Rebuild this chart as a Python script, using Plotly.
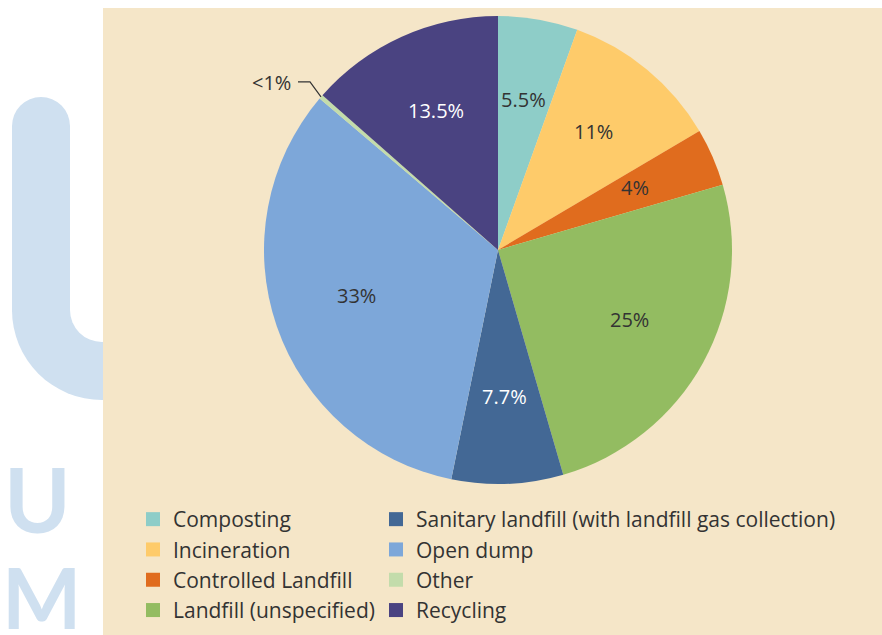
import math
import plotly.graph_objects as go

# ---------------- data ----------------
categories = ["Composting", "Incineration", "Controlled Landfill", "Landfill (unspecified)",
              "Sanitary landfill (with landfill gas collection)", "Open dump", "Other", "Recycling"]
values = [5.5, 11, 4, 25, 7.7, 33, 0.3, 13.5]
slice_labels = ["5.5%", "11%", "4%", "25%", "7.7%", "33%", "<1%", "13.5%"]
colors = ["#8ecdc8", "#fecb6a", "#e06c1e", "#93bc61", "#436895", "#7da7d9", "#c3dcab", "#4a4381"]
text_colors = ["#333333", "#333333", "#333333", "#333333", "#ffffff", "#333333", "#333333", "#ffffff"]
legend_col1 = categories[:4]
legend_col2 = categories[4:]

# ---------------- layout constants ----------------
W, H = 882, 635
cx, cy, r = 498, 250, 234
LABEL_R = 0.64
FONT = "Open Sans, Liberation Sans, Arial, sans-serif"
WM = "#cfe0f0"
DARK = "#333333"

fig = go.Figure()

fig.add_trace(go.Pie(
    labels=categories, values=values, textinfo="none",
    marker=dict(colors=colors, line=dict(width=0)),
    sort=False, direction="clockwise", rotation=0, showlegend=False,
    hoverinfo="label+percent",
    domain=dict(x=[(cx - r) / W, (cx + r) / W], y=[(H - cy - r) / H, (H - cy + r) / H]),
))

# legend entries (two columns)
for i, name in enumerate(categories):
    fig.add_trace(go.Scatter(
        x=[None], y=[None], mode="markers", name=name,
        marker=dict(symbol="square", size=14, color=colors[i], line=dict(width=0)),
        legend="legend" if name in legend_col1 else "legend2",
        legendgroup=name, hoverinfo="skip",
    ))

total = sum(values)
annotations = []
i_other = categories.index("Other")
cum = 0.0
for i, v in enumerate(values):
    mid = 2 * math.pi * (cum + v / 2) / total
    cum += v
    if i == i_other:
        continue
    annotations.append(dict(
        x=cx + LABEL_R * r * math.sin(mid), y=cy - LABEL_R * r * math.cos(mid) - 3,
        xref="x", yref="y", text=slice_labels[i], showarrow=False,
        xanchor="center", yanchor="middle",
        font=dict(family=FONT, size=20, color=text_colors[i]),
    ))

# "<1%" leader line computed from the data
theta = 2 * math.pi * (sum(values[:i_other]) + values[i_other] / 2) / total
px = cx + r * math.sin(theta)
py = cy - r * math.cos(theta)
ex, ey = px - 11, py - 15
hx = ex - 12

annotations += [
    dict(x=hx - 5, y=ey + 1, xref="x", yref="y", text=slice_labels[i_other], showarrow=False,
         xanchor="right", yanchor="middle", font=dict(family=FONT, size=20, color=DARK)),
    dict(x=37, y=498, xref="x", yref="y", text="<b>U</b>", showarrow=False, xanchor="center",
         yanchor="middle", font=dict(family="Lato, sans-serif", size=90, color=WM)),
    dict(x=41, y=596, xref="x", yref="y", text="<b>M</b>", showarrow=False, xanchor="center",
         yanchor="middle", font=dict(family="Lato, sans-serif", size=84, color=WM)),
]

shapes = [
    # watermark U shape
    dict(type="circle", x0=12, x1=192, y0=220, y1=400, fillcolor=WM, line_width=0, layer="below"),
    dict(type="rect", x0=70, x1=200, y0=210, y1=310, fillcolor="white", line_width=0, layer="below"),
    dict(type="circle", x0=70, x1=134, y0=278, y1=342, fillcolor="white", line_width=0, layer="below"),
    dict(type="rect", x0=12, x1=70, y0=126, y1=312, fillcolor=WM, line_width=0, layer="below"),
    dict(type="circle", x0=12, x1=70, y0=97, y1=155, fillcolor=WM, line_width=0, layer="below"),
    # beige panel
    dict(type="rect", x0=103, x1=W, y0=8, y1=H, fillcolor="#f5e6c8", line_width=0, layer="below"),
    # leader line
    dict(type="path", path=f"M {px:.1f},{py:.1f} L {ex:.1f},{ey:.1f} L {hx:.1f},{ey:.1f}",
         line=dict(color=DARK, width=1.2), layer="above"),
]

legend_common = dict(
    xref="paper", yref="paper", xanchor="left", yanchor="top", orientation="v",
    bgcolor="rgba(0,0,0,0)", borderwidth=0, traceorder="grouped", tracegroupgap=0,
    font=dict(family=FONT, size=21, color=DARK), itemclick=False, itemdoubleclick=False,
)

fig.update_layout(
    width=W, height=H, margin=dict(l=0, r=0, t=0, b=0),
    paper_bgcolor="white", plot_bgcolor="rgba(0,0,0,0)",
    xaxis=dict(range=[0, W], visible=False, fixedrange=True, domain=[0, 1]),
    yaxis=dict(range=[H, 0], visible=False, fixedrange=True, domain=[0, 1]),
    shapes=shapes, annotations=annotations,
    legend=dict(x=133 / W, y=(H - 499) / H, **legend_common),
    legend2=dict(x=376 / W, y=(H - 499) / H, **legend_common),
    showlegend=True,
)

fig.write_html("out.html")
